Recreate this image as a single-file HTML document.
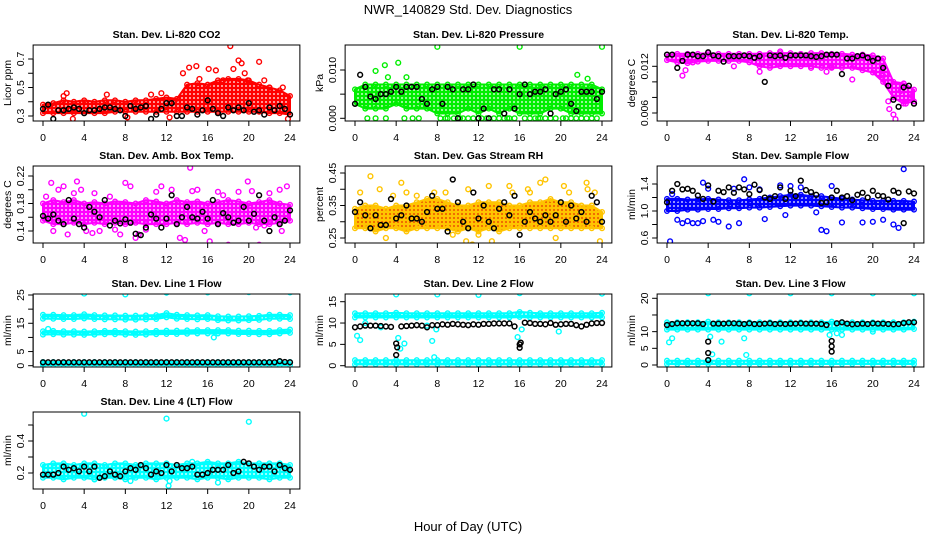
<!DOCTYPE html>
<html><head><meta charset="utf-8"><title>NWR Std Dev Diagnostics</title>
<style>html,body{margin:0;padding:0;background:#fff}svg{display:block;font-family:"Liberation Sans",sans-serif}</style>
</head><body>
<svg id="chart" width="936" height="540" viewBox="0 0 936 540">
<text x="468" y="14" text-anchor="middle" font-size="13">NWR_140829  Std. Dev. Diagnostics</text>
<text x="468" y="531" text-anchor="middle" font-size="13">Hour of Day (UTC)</text>
</svg>
<script>
// ---- data ----
const hours = [0,1,2,3,4,5,6,7,8,9,10,11,12,13,14,15,16,17,18,19,20,21,22,23,24];
const blackHours = [0,0.5,1,1.5,2,2.5,3,3.5,4,4.5,5,5.5,6,6.5,7,7.5,8,8.5,9,9.5,10,10.5,11,11.5,12,12.5,13,13.5,14,14.5,15,15.5,16,16.5,17,17.5,18,18.5,19,19.5,20,20.5,21,21.5,22,22.5,23,23.5,24];
const xTicks = [0,4,8,12,16,20,24];

const co2Lo = [0.32,0.32,0.32,0.32,0.32,0.32,0.32,0.33,0.33,0.33,0.33,0.33,0.33,0.33,0.33,0.33,0.33,0.33,0.33,0.33,0.33,0.33,0.32,0.32,0.31];
const co2Hi = [0.38,0.39,0.41,0.40,0.41,0.40,0.41,0.41,0.40,0.41,0.41,0.42,0.43,0.42,0.52,0.53,0.52,0.55,0.56,0.56,0.55,0.52,0.50,0.48,0.44];
const co2OutX = [2.3,2.9,6.2,8.2,10.5,11.5,13.6,14.2,14.9,15.2,16.1,16.8,17.5,18.2,18.5,19,19.3,19.6,19.9,21,21.5,22,23.3,23.8,12.3,2];
const co2OutY = [0.46,0.28,0.45,0.29,0.45,0.46,0.6,0.64,0.65,0.56,0.63,0.62,0.55,0.79,0.63,0.69,0.67,0.6,0.55,0.68,0.55,0.50,0.50,0.28,0.29,0.44];
const co2Black = [0.35,0.38,0.28,0.34,0.34,0.35,0.36,0.35,0.32,0.34,0.34,0.35,0.36,0.36,0.35,0.34,0.30,0.37,0.35,0.36,0.37,0.28,0.31,0.35,0.39,0.39,0.30,0.30,0.36,0.35,0.31,0.34,0.41,0.35,0.32,0.30,0.36,0.34,0.36,0.34,0.39,0.33,0.34,0.31,0.36,0.34,0.37,0.35,0.31];

const presLo = [0.003,0.002,0.002,0.002,0.003,0.002,0.002,0.002,0.001,0.001,0.001,0.002,0.001,0.002,0.001,0.002,0.001,0.001,0.001,0.002,0.002,0.001,0.001,0.001,0.001];
const presHi = [0.006,0.007,0.007,0.007,0.007,0.007,0.007,0.007,0.007,0.007,0.007,0.007,0.007,0.007,0.007,0.007,0.007,0.007,0.007,0.007,0.007,0.007,0.007,0.007,0.006];
const presOutX = [8,16,24,2.9,4.2,2,21.6,22.6,3.2,5,1.2,2,3,4.8,5.6,6.2,8.3,9,9.6,10.5,11,11.5,12.3,13,13.5,14,14.5,15,15.5,16.5,17,17.5,18,18.5,19,19.5,20.5,21,21.5,22,22.5,23,23.5,8.8,10.2,12.8,14.8,17.8,20.2];
const presOutY = [0.0148,0.0148,0.0148,0.011,0.0115,0.0098,0.009,0.0082,0.0085,0.0085,0,0,0,0,0,0,0,0,0,0,0,0,0,0,0,0,0,0,0,0,0,0,0,0,0,0,0,0,0,0,0,0,0,0,0,0,0,0,0];
const presBlack = [0.003,0.009,0.0065,0.0045,0.004,0.005,0.005,0.0055,0.0065,0.0055,0.0065,0.0065,0.0065,0.004,0.003,0.006,0.0065,0.003,0.0065,0.006,0.000,0.006,0.006,0.007,0.000,0.002,0.000,0.006,0.006,0.001,0.006,0.002,0.005,0.007,0.005,0.0055,0.0055,0.006,0.001,0.005,0.0055,0.006,0.003,0.0015,0.0055,0.0055,0.0055,0.004,0.0055];

const tempLo = [0.0128,0.0125,0.0124,0.0126,0.0127,0.0127,0.0127,0.0127,0.0125,0.0120,0.0118,0.0120,0.0120,0.0120,0.0120,0.0118,0.0118,0.0118,0.0118,0.0115,0.0112,0.0100,0.0080,0.0072,0.0075];
const tempHi = [0.0135,0.0136,0.0136,0.0136,0.0137,0.0136,0.0136,0.0136,0.0136,0.0136,0.0137,0.0137,0.0137,0.0136,0.0137,0.0137,0.0136,0.0136,0.0135,0.0135,0.0134,0.0130,0.0100,0.0098,0.0090];
const tempOutX = [1.5,1.8,2.5,6.5,9,11,15.5,14,18,21.5,22,22.2,22.7,23.2,23.8,21,21.6,16];
const tempOutY = [0.0108,0.0115,0.0125,0.012,0.0113,0.0139,0.0113,0.0118,0.0103,0.0075,0.0058,0.0052,0.0088,0.0072,0.0082,0.0108,0.0065,0.0119];
const tempBlack = [0.0135,0.0135,0.0118,0.0127,0.0135,0.0135,0.0133,0.0133,0.0138,0.0134,0.0133,0.0126,0.0133,0.0133,0.0133,0.0134,0.0133,0.0131,0.0133,0.0100,0.0134,0.0133,0.0134,0.0131,0.0134,0.0134,0.0134,0.0134,0.0133,0.0132,0.0133,0.0135,0.0135,0.0135,0.0110,0.0130,0.0130,0.0133,0.0134,0.0131,0.0127,0.0130,0.0118,0.0095,0.0077,0.0068,0.0093,0.0095,0.0072];

const ambLo = [0.155,0.150,0.150,0.152,0.150,0.152,0.150,0.152,0.150,0.152,0.150,0.150,0.150,0.152,0.150,0.152,0.150,0.152,0.150,0.150,0.152,0.150,0.150,0.152,0.155];
const ambHi = [0.180,0.185,0.182,0.185,0.180,0.182,0.180,0.183,0.182,0.180,0.185,0.183,0.180,0.185,0.182,0.183,0.180,0.182,0.185,0.183,0.180,0.182,0.185,0.180,0.178];
const ambOutX = [0.3,0.8,1,1.5,2,2.4,3,3.3,3.7,4.2,5,5.5,6.5,7.5,8,8.5,9,9.3,10,11,11.5,12.5,13.3,13.8,14.3,14.5,15,15.7,16.2,17,17.5,18,19,19.9,20.3,20.7,21,21.5,22,23,23.7,23.2,7,4.8];
const ambOutY = [0.19,0.21,0.14,0.2,0.205,0.135,0.195,0.212,0.2,0.14,0.195,0.14,0.19,0.135,0.21,0.205,0.13,0.135,0.142,0.197,0.205,0.20,0.13,0.127,0.232,0.198,0.2,0.14,0.125,0.197,0.192,0.12,0.197,0.212,0.198,0.145,0.12,0.148,0.195,0.20,0.205,0.14,0.142,0.137];
const ambBlack = [0.162,0.158,0.164,0.155,0.150,0.185,0.158,0.150,0.145,0.175,0.168,0.160,0.185,0.148,0.155,0.151,0.157,0.152,0.136,0.134,0.145,0.164,0.158,0.145,0.158,0.192,0.150,0.160,0.175,0.160,0.158,0.168,0.158,0.185,0.150,0.166,0.160,0.152,0.155,0.175,0.155,0.165,0.192,0.155,0.140,0.160,0.150,0.155,0.170];

const rhLo = [0.28,0.28,0.27,0.28,0.28,0.27,0.28,0.28,0.28,0.28,0.27,0.28,0.27,0.28,0.27,0.28,0.28,0.28,0.28,0.28,0.28,0.28,0.28,0.28,0.28];
const rhHi = [0.34,0.35,0.35,0.34,0.35,0.35,0.36,0.37,0.37,0.36,0.35,0.35,0.36,0.36,0.36,0.35,0.35,0.36,0.36,0.37,0.36,0.36,0.35,0.35,0.33];
const rhOutX = [0.5,1.5,2.4,3,3.7,4.5,5,6,7.7,8.8,9.5,10.8,11,11.4,12,13,13.3,14.2,15,15.3,16.8,17,18,18.5,19.5,20.3,20.8,22.5,22.6,23.3,23.8];
const rhOutY = [0.39,0.44,0.40,0.25,0.38,0.42,0.39,0.38,0.39,0.39,0.26,0.24,0.40,0.23,0.26,0.41,0.24,0.22,0.41,0.39,0.40,0.39,0.42,0.43,0.25,0.41,0.39,0.42,0.40,0.39,0.24];
const rhBlack = [0.33,0.36,0.32,0.28,0.32,0.29,0.29,0.37,0.31,0.32,0.35,0.31,0.31,0.30,0.33,0.38,0.34,0.34,0.27,0.43,0.36,0.30,0.28,0.39,0.31,0.35,0.30,0.28,0.34,0.36,0.32,0.38,0.26,0.30,0.33,0.31,0.30,0.32,0.30,0.32,0.36,0.30,0.35,0.31,0.33,0.30,0.38,0.36,0.30];

const flowLo = [1.00,1.00,1.02,1.02,1.03,1.03,1.04,1.04,1.05,1.05,1.06,1.07,1.08,1.08,1.08,1.07,1.06,1.05,1.05,1.04,1.03,1.03,1.02,1.02,1.02];
const flowHi = [1.18,1.18,1.17,1.17,1.18,1.17,1.16,1.16,1.17,1.18,1.20,1.22,1.24,1.24,1.22,1.22,1.20,1.18,1.17,1.16,1.15,1.15,1.15,1.15,1.14];
const flowOutX = [0.3,0.5,1,1.5,2,2.5,3,3.5,4,4.5,5,6,7,7.5,8,9.5,11,11.5,13,14.5,15,15.5,16,17,19,20,21,22,22.5,23,3.5,6.5,9,12];
const flowOutY = [0.55,1.25,0.87,0.82,0.85,0.82,0.82,0.85,1.33,0.87,0.84,0.77,0.82,1.47,1.35,0.88,1.38,0.94,1.35,0.98,0.72,0.70,1.37,0.83,0.83,0.84,0.87,0.80,0.75,1.62,1.42,1.33,1.32,1.37];
const flowBlack = [1.13,1.30,1.40,1.32,1.33,1.30,1.23,1.18,1.38,1.14,1.30,1.28,1.35,1.27,1.35,1.32,1.25,1.39,1.31,1.20,1.18,1.22,1.35,1.18,1.30,1.22,1.45,1.31,1.28,1.24,1.12,1.13,1.20,1.30,1.20,1.22,1.16,1.24,1.27,1.20,1.30,1.23,1.22,1.17,1.30,1.27,0.82,1.29,1.26];

const line1TopLo = [16.6,16.6,16.5,16.5,16.7,16.5,16.4,16.4,16.3,16.3,16.4,16.5,17.1,16.6,16.5,16.4,16.5,16.1,16.0,16.0,16.1,16.2,16.6,16.6,16.5];
const line1TopHi = [18.0,18.0,17.9,17.9,18.2,17.9,17.8,17.8,17.7,17.7,17.8,17.9,18.6,18.0,17.9,17.8,17.9,17.5,17.4,17.4,17.5,17.6,18.0,18.0,17.9];
const line1MidLo = [11.0,11.1,11.0,11.0,10.9,11.0,11.1,11.1,11.0,10.9,11.0,11.1,11.2,11.2,11.3,11.4,11.4,11.4,11.4,11.2,11.2,11.1,11.1,11.4,11.6];
const line1MidHi = [12.2,12.3,12.2,12.2,12.1,12.2,12.3,12.3,12.2,12.1,12.2,12.3,12.4,12.4,12.5,12.6,12.6,12.6,12.6,12.4,12.4,12.3,12.3,12.6,12.8];
const line1BotLo = [0.2,0.2,0.2,0.2,0.2,0.2,0.2,0.2,0.2,0.2,0.2,0.2,0.2,0.2,0.2,0.2,0.2,0.2,0.2,0.2,0.2,0.2,0.2,0.2,0.2];
const line1BotHi = [1.3,1.3,1.3,1.3,1.3,1.3,1.3,1.3,1.3,1.3,1.3,1.3,1.3,1.3,1.3,1.3,1.3,1.3,1.3,1.3,1.3,1.3,1.3,1.3,1.3];
const line1OutX = [4,8,12,16,20,24,0.5,16.6,0];
const line1OutY = [25.5,25.2,25.8,25.9,26,25.9,13,10,0.8];
const line1Black = [1.2,1.2,1.2,1.2,1.2,1.2,1.2,1.2,1.2,1.2,1.2,1.2,1.2,1.2,1.2,1.2,1.2,1.2,1.2,1.2,1.2,1.2,1.2,1.2,1.2,1.2,1.2,1.2,1.2,1.2,1.2,1.2,1.2,1.2,1.2,1.2,1.2,1.2,1.2,1.2,1.2,1.2,1.2,1.2,1.2,1.2,1.6,1.3,1.2];

const line2TopLo = [11.3,11.3,11.3,11.3,11.3,11.3,11.3,11.3,11.3,11.3,11.3,11.3,11.3,11.3,11.3,11.3,11.4,11.3,11.3,11.3,11.3,11.3,11.3,11.3,11.3];
const line2TopHi = [12.3,12.3,12.3,12.3,12.4,12.3,12.3,12.3,12.3,12.3,12.3,12.3,12.3,12.3,12.3,12.3,12.6,12.4,12.3,12.3,12.3,12.3,12.3,12.3,12.4];
const line2BotLo = [0.3,0.3,0.3,0.3,0.3,0.3,0.3,0.3,0.3,0.3,0.3,0.3,0.3,0.3,0.3,0.3,0.3,0.3,0.3,0.3,0.3,0.3,0.3,0.3,0.3];
const line2BotHi = [1.3,1.3,1.3,1.3,1.3,1.3,1.3,1.3,1.3,1.3,1.3,1.3,1.3,1.3,1.3,1.3,1.3,1.3,1.3,1.3,1.3,1.3,1.3,1.3,1.3];
const line2OutX = [0.2,0.5,4,8,12,16,20,24,4.2,4.4,4.8,7.5,7.7,15.8,16.2,19.8,2.5,7,1,7.9];
const line2OutY = [7,6,16.7,16.7,16.6,17,17.4,16.9,6.5,4,5.2,5.8,2,6.7,8.5,8,9,9.4,10,8.5];
const line2Black = [9.0,9.2,9.4,9.4,9.4,9.3,9.2,9.1,5.2,9.2,9.3,9.4,9.5,9.4,9.0,9.5,9.5,9.7,9.6,9.8,9.7,9.6,9.5,9.7,9.6,9.8,9.8,9.9,9.9,9.9,9.9,9.2,5.0,10.1,10.0,9.8,9.8,9.7,10.0,9.6,9.7,9.8,9.8,9.5,9.2,9.6,9.9,10.0,10.0];
const line2BlackExX = [4,4.1,16,16.1];
const line2BlackExY = [2.5,4.3,4.2,5.4];

const line3TopLo = [10.6,10.6,10.6,10.6,10.6,10.6,10.6,10.6,10.6,10.6,10.6,10.6,10.6,10.6,10.6,10.6,10.6,10.6,10.6,10.6,10.6,10.6,10.6,10.6,10.8];
const line3TopHi = [12.8,12.8,12.8,12.8,13.0,12.8,12.8,12.8,12.8,12.8,12.8,12.8,12.8,12.8,12.8,12.8,13.0,12.8,12.8,12.8,12.8,12.8,12.8,12.8,13.0];
const line3BotLo = [0.3,0.3,0.3,0.3,0.3,0.3,0.3,0.3,0.3,0.3,0.3,0.3,0.3,0.3,0.3,0.3,0.3,0.3,0.3,0.3,0.3,0.3,0.3,0.3,0.3];
const line3BotHi = [1.3,1.3,1.3,1.3,1.3,1.3,1.3,1.3,1.3,1.3,1.3,1.3,1.3,1.3,1.3,1.3,1.3,1.3,1.3,1.3,1.3,1.3,1.3,1.3,1.3];
const line3OutX = [0.2,0.5,4,8,12,16,20,24,4.4,5.3,7.5,7.7,15.8,16.5,17,20,4.2];
const line3OutY = [6.8,8,21.5,21.5,21.5,21.5,21.5,21.5,3.2,7,8,3,9,9.5,9,10,8.5];
const line3Black = [12,12.3,12.5,12.5,12.5,12.5,12.5,12.3,7.0,12.4,12.4,12.4,12.5,12.5,12.4,12.3,12.5,12.3,12.3,12.4,12.5,12.3,12.4,12.3,12.4,12.4,12.5,12.4,12.4,12.4,12.3,12.0,7.2,12.5,12.8,12.4,12.2,12.3,12.4,12.3,12.5,12.4,12.4,12.3,12.2,12.3,12.6,12.8,12.8];
const line3BlackExX = [4,4,16,16];
const line3BlackExY = [3.6,1.5,4,5.6];

const line4Lo = [0.17,0.17,0.16,0.17,0.17,0.16,0.17,0.17,0.16,0.17,0.17,0.16,0.17,0.17,0.17,0.16,0.17,0.17,0.16,0.17,0.17,0.17,0.16,0.17,0.17];
const line4Hi = [0.25,0.26,0.26,0.25,0.26,0.26,0.25,0.26,0.26,0.25,0.26,0.26,0.26,0.25,0.26,0.26,0.27,0.26,0.26,0.27,0.26,0.26,0.26,0.26,0.25];
const line4OutX = [4,12,20,12.2,12.3,5,17,14.5,8.5];
const line4OutY = [0.57,0.54,0.52,0.12,0.15,0.16,0.14,0.27,0.15];
const line4Black = [0.19,0.19,0.19,0.20,0.24,0.22,0.23,0.21,0.24,0.21,0.24,0.17,0.18,0.21,0.19,0.18,0.21,0.23,0.22,0.25,0.23,0.19,0.21,0.20,0.25,0.21,0.25,0.23,0.23,0.24,0.19,0.19,0.20,0.22,0.22,0.22,0.25,0.20,0.21,0.27,0.26,0.24,0.22,0.24,0.24,0.21,0.25,0.23,0.22];

// ---- layout ----
const NS = 'http://www.w3.org/2000/svg';
const svg = document.getElementById('chart');
function mk(tag, attrs, parent) {
  const e = document.createElementNS(NS, tag);
  for (const k in attrs) e.setAttribute(k, attrs[k]);
  (parent || svg).appendChild(e);
  return e;
}
const defs = mk('defs', {});
const cols = [[43,290],[355,602],[667,914]];
const rows = [[45,121],[166,243],[294,367],[412,489]];

const panels = [
 {name:'co2',title:'Stan. Dev. Li-820 CO2',ylab:'Licor ppm',c:0,r:0,cal:[0.3,116,0.7,59],ticks:[0.3,0.4,0.5,0.6,0.7],labels:['0.3','0.5','0.7'],labVals:[0.3,0.5,0.7],color:'#ff0000',
  bands:[[co2Lo,co2Hi]],outX:co2OutX,outY:co2OutY,black:co2Black},
 {name:'pressure',title:'Stan. Dev. Li-820 Pressure',ylab:'kPa',c:1,r:0,cal:[0,118.3,0.01,70],ticks:[0,0.005,0.01],labels:['0.000','0.010'],labVals:[0,0.01],color:'#00ee00',
  bands:[[presLo,presHi]],outX:presOutX,outY:presOutY,black:presBlack},
 {name:'temp',title:'Stan. Dev. Li-820 Temp.',ylab:'degrees C',c:2,r:0,cal:[0.012,66.3,0.006,113],ticks:[0.006,0.008,0.010,0.012],labels:['0.006','0.012'],labVals:[0.006,0.012],color:'#ff00ff',
  bands:[[tempLo,tempHi]],outX:tempOutX,outY:tempOutY,black:tempBlack},
 {name:'amb-box-temp',title:'Stan. Dev. Amb. Box Temp.',ylab:'degrees C',c:0,r:1,cal:[0.14,231,0.22,176],ticks:[0.14,0.16,0.18,0.20,0.22],labels:['0.14','0.18','0.22'],labVals:[0.14,0.18,0.22],color:'#ff00ff',
  bands:[[ambLo,ambHi]],outX:ambOutX,outY:ambOutY,black:ambBlack},
 {name:'gas-rh',title:'Stan. Dev. Gas Stream RH',ylab:'percent',c:1,r:1,cal:[0.25,238,0.45,173],ticks:[0.25,0.30,0.35,0.40,0.45],labels:['0.25','0.35','0.45'],labVals:[0.25,0.35,0.45],color:'#ffc400',inner:'#e83000',
  bands:[[rhLo,rhHi]],outX:rhOutX,outY:rhOutY,black:rhBlack},
 {name:'sample-flow',title:'Stan. Dev. Sample Flow',ylab:'ml/min',c:2,r:1,cal:[0.6,238,1.4,184],ticks:[0.6,0.8,1.0,1.2,1.4],labels:['0.6','1.0','1.4'],labVals:[0.6,1.0,1.4],color:'#0000ff',
  bands:[[flowLo,flowHi]],outX:flowOutX,outY:flowOutY,black:flowBlack},
 {name:'line1-flow',title:'Stan. Dev. Line 1 Flow',ylab:'ml/min',c:0,r:2,cal:[0,365.7,25,295],ticks:[0,5,10,15,20,25],labels:['0','5','15','25'],labVals:[0,5,15,25],color:'#00ffff',
  bands:[[line1TopLo,line1TopHi],[line1MidLo,line1MidHi],[line1BotLo,line1BotHi]],outX:line1OutX,outY:line1OutY,black:line1Black},
 {name:'line2-flow',title:'Stan. Dev. Line 2 Flow',ylab:'ml/min',c:1,r:2,cal:[0,365.7,15,301.7],ticks:[0,5,10,15],labels:['0','5','10','15'],labVals:[0,5,10,15],color:'#00ffff',
  bands:[[line2TopLo,line2TopHi],[line2BotLo,line2BotHi]],outX:line2OutX,outY:line2OutY,black:line2Black,bxX:line2BlackExX,bxY:line2BlackExY},
 {name:'line3-flow',title:'Stan. Dev. Line 3 Flow',ylab:'ml/min',c:2,r:2,cal:[0,365,20,298.3],ticks:[0,5,10,15,20],labels:['0','5','10','20'],labVals:[0,5,10,20],color:'#00ffff',
  bands:[[line3TopLo,line3TopHi],[line3BotLo,line3BotHi]],outX:line3OutX,outY:line3OutY,black:line3Black,bxX:line3BlackExX,bxY:line3BlackExY},
 {name:'line4-flow',title:'Stan. Dev. Line 4 (LT) Flow',ylab:'ml/min',c:0,r:3,cal:[0.2,473,0.4,441],ticks:[0.2,0.3,0.4,0.5],labels:['0.2','0.4'],labVals:[0.2,0.4],color:'#00ffff',
  bands:[[line4Lo,line4Hi]],outX:line4OutX,outY:line4OutY,black:line4Black}
];

panels.forEach(p => {
  const [h0,h24] = cols[p.c];
  const [top,bot] = rows[p.r];
  const xs = v => h0 + (h24-h0) * v / 24;
  const ys = v => p.cal[1] + (v - p.cal[0]) * (p.cal[3]-p.cal[1]) / (p.cal[2]-p.cal[0]);
  const left = xs(-0.96), right = xs(24.96);
  // speckle pattern
  const pid = 'pat-' + p.name;
  const pat = mk('pattern', {id:pid, width:4, height:4, patternUnits:'userSpaceOnUse'}, defs);
  mk('rect', {x:0, y:0, width:4, height:4, fill:p.color}, pat);
  mk('circle', {cx:2, cy:2, r:0.9, fill:p.inner || '#ffffff'}, pat);
  const g = mk('g', {});
  
  
  const t = mk('text', {x:(left+right)/2, y:top-7, 'text-anchor':'middle', 'font-size':'10.5', 'font-weight':'bold'}, g);
  t.textContent = p.title;
  
  
  const cid = 'clip-' + p.name;
  const cp = mk('clipPath', {id:cid}, g);
  mk('rect', {x:left, y:top, width:right-left, height:bot-top}, cp);
  const pg = mk('g', {'clip-path':'url(#'+cid+')'}, g);
  p.bands.forEach(b => {
    const lo = b[0], hi = b[1];
    let d = '';
    hours.forEach((h,i) => { d += (i?'L':'M') + xs(h).toFixed(1) + ',' + ys(hi[i]).toFixed(1); });
    for (let i = hours.length-1; i >= 0; i--) d += 'L' + xs(hours[i]).toFixed(1) + ',' + ys(lo[i]).toFixed(1);
    const band = mk('path', {d:d+'Z', fill:'url(#'+pid+')', stroke:p.color, 'stroke-width':'2', 'stroke-linejoin':'round'}, pg);
    
    
    hours.forEach((h,i) => {
      [lo[i],hi[i]].forEach(v => {
        const c = mk('circle', {cx:xs(h), cy:ys(v), r:2.3, fill:'none', stroke:p.color, 'stroke-width':'1.4'}, pg);
        
        
      });
    });
  });
  p.outX.forEach((x,i) => {
    const c = mk('circle', {cx:xs(x), cy:ys(p.outY[i]), r:2.4, fill:'none', stroke:p.color, 'stroke-width':'1.4'}, pg);
    
    
  });
  p.black.forEach((v,i) => {
    const c = mk('circle', {cx:xs(blackHours[i]), cy:ys(v), r:2.4, fill:'none', stroke:'#000', 'stroke-width':'1.5'}, pg);
    
    
  });
  if (p.bxX) p.bxX.forEach((x,i) => {
    const c = mk('circle', {cx:xs(x), cy:ys(p.bxY[i]), r:2.4, fill:'none', stroke:'#000', 'stroke-width':'1.5'}, pg);
    
    
  });
  const box = mk('rect', {x:left, y:top, width:right-left, height:bot-top, fill:'none', stroke:'#000', 'stroke-width':'1'}, g);
  
  
  mk('line', {x1:xs(0), x2:xs(24), y1:bot, y2:bot, stroke:'#000'}, g);
  xTicks.forEach(v => {
    mk('line', {x1:xs(v), x2:xs(v), y1:bot, y2:bot+5, stroke:'#000'}, g);
    const tl = mk('text', {x:xs(v), y:bot+20, 'text-anchor':'middle', 'font-size':'10.5'}, g);
    tl.textContent = v;
    
    
  });
  const tv = p.ticks;
  mk('line', {x1:left, x2:left, y1:ys(tv[0]), y2:ys(tv[tv.length-1]), stroke:'#000'}, g);
  tv.forEach(v => mk('line', {x1:left-5, x2:left, y1:ys(v), y2:ys(v), stroke:'#000'}, g));
  p.labVals.forEach((v,i) => {
    const yy = ys(v), xx = left - 9;
    const tl = mk('text', {x:xx, y:yy, 'text-anchor':'middle', 'font-size':'10.5', transform:'rotate(-90 '+xx+' '+yy+')'}, g);
    tl.textContent = p.labels[i];
    
    
  });
  const yl = left - 22, ym = (top+bot)/2;
  const yt = mk('text', {x:yl, y:ym, 'text-anchor':'middle', 'font-size':'10.5', transform:'rotate(-90 '+yl+' '+ym+')'}, g);
  yt.textContent = p.ylab;
  
  
});
</script>
</body></html>
